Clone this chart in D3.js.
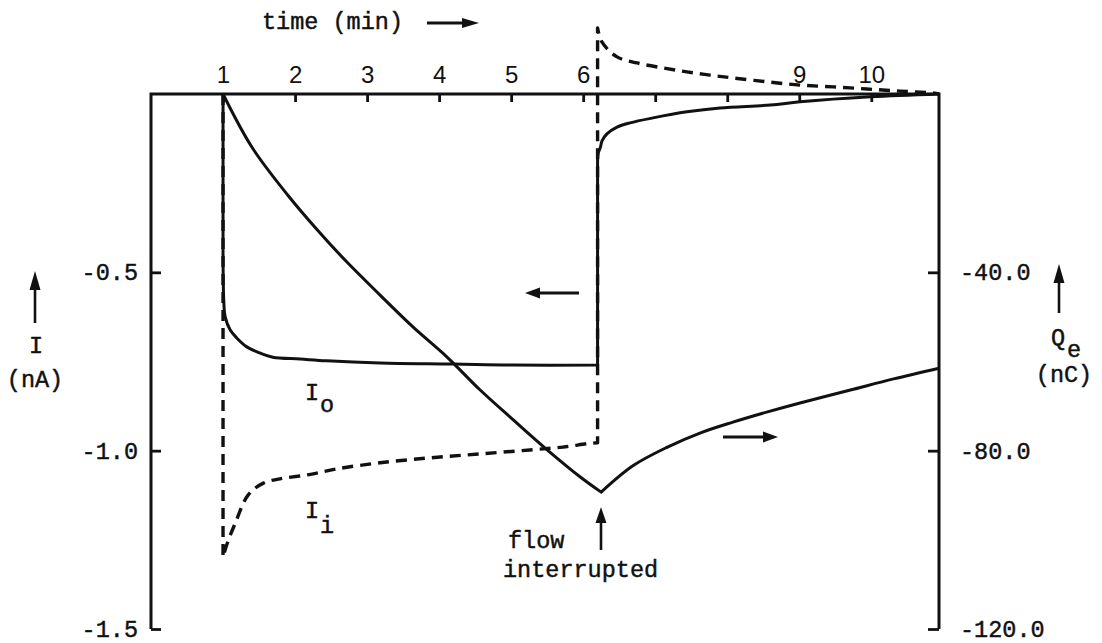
<!DOCTYPE html>
<html>
<head>
<meta charset="utf-8">
<script src="https://cdn.jsdelivr.net/npm/d3@7"></script>
<style>
  html, body { margin: 0; padding: 0; background: #fff; }
  svg { display: block; }
  text { fill: #111; }
</style>
</head>
<body>
<svg id="chart" width="1102" height="643"></svg>
<script>
// Time axis (minutes)
const timeTicks = [1, 2, 3, 4, 5, 6, 7, 8, 9, 10];
const timeTickLabels = ["1", "2", "3", "4", "5", "6", "", "", "9", "10"];
const currentTicks = [-0.5, -1.0, -1.5];   // nA, left axis
const chargeTicks = [-40, -80, -120];      // nC, right axis

// I_o : outlet current (solid), nA
const ioTime = [1.00, 1.00, 1.01, 1.03, 1.10, 1.19, 1.33, 1.51, 1.69, 2.07, 2.44, 3.18, 4.19, 5.03, 6.20,
                6.20, 6.21, 6.24, 6.26, 6.33, 6.47, 6.65, 6.97, 7.44, 7.90, 8.60, 9.01, 9.99, 10.94];
const ioCurrent = [0, -0.437, -0.578, -0.625, -0.662, -0.684, -0.709, -0.726, -0.738, -0.743, -0.748, -0.754, -0.757, -0.760, -0.760,
                   -0.185, -0.165, -0.149, -0.132, -0.112, -0.093, -0.081, -0.067, -0.050, -0.039, -0.031, -0.022, -0.008, 0];

// I_i : inlet current (dashed), nA
const iiTime = [1.00, 1.00, 1.06, 1.17, 1.35, 1.56, 1.79, 2.17, 2.58, 3.18, 3.88, 4.57, 5.26, 5.72, 6.07, 6.20,
                6.20, 6.26, 6.47, 6.75, 7.11, 7.44, 7.76, 8.08, 8.56, 9.01, 9.47, 9.94, 10.40, 10.86, 10.94];
const iiCurrent = [0, -1.298, -1.259, -1.203, -1.124, -1.091, -1.079, -1.068, -1.051, -1.034, -1.020, -1.009, -0.998, -0.990, -0.980, -0.978,
                   0.185, 0.146, 0.104, 0.087, 0.073, 0.062, 0.053, 0.045, 0.034, 0.025, 0.020, 0.014, 0.008, 0.003, 0];

// Q_e : accumulated charge (solid, right axis), nC
const qeTime = [1.00, 1.40, 1.90, 2.31, 2.72, 3.18, 3.64, 4.11, 4.57, 5.03, 5.50, 5.96, 6.25,
                6.69, 7.17, 7.63, 8.08, 8.56, 9.01, 9.71, 10.31, 10.94];
const qeCharge = [0, -11.9, -22.7, -30.5, -37.7, -45.1, -52.3, -59.0, -66.4, -73.1, -79.8, -85.9, -89.3,
                  -83.4, -79.2, -76.0, -73.6, -71.3, -69.3, -66.4, -63.9, -61.5];

const INK = "#111";
const MONO = "'Liberation Mono', 'DejaVu Sans Mono', monospace";
const SANS = "'Liberation Sans', Arial, sans-serif";
const FS = 23.5;

const svg = d3.select("#chart");

const x = d3.scaleLinear().domain([0, 10.94]).range([151, 939]);
const y = d3.scaleLinear().domain([0, -1.5]).range([94, 629]);
const yQ = d3.scaleLinear().domain([0, -120]).range([94, 629]);

// Frame: top, left and right sides
svg.append("path")
  .attr("d", `M${x(0)},${y(-1.5)} V${y(0)} H${x(10.94)} V${y(-1.5)}`)
  .attr("fill", "none").attr("stroke", INK).attr("stroke-width", 3)
  .attr("stroke-linejoin", "miter");

// Top time axis
const xAxis = d3.axisTop(x)
  .tickValues(timeTicks)
  .tickFormat((d, i) => timeTickLabels[i])
  .tickSizeInner(-8).tickSizeOuter(0).tickPadding(11);
const gx = svg.append("g").attr("transform", `translate(0,${y(0)})`).call(xAxis);
gx.select(".domain").remove();
gx.selectAll(".tick line").attr("stroke", INK).attr("stroke-width", 2.8);
gx.selectAll(".tick text").attr("font-family", SANS).attr("font-size", 24).attr("fill", INK);

// Left current axis
const yAxis = d3.axisLeft(y)
  .tickValues(currentTicks)
  .tickFormat(d => d.toFixed(1))
  .tickSizeInner(-10).tickSizeOuter(0).tickPadding(13);
const gy = svg.append("g").attr("transform", `translate(${x(0)},0)`).call(yAxis);
gy.select(".domain").remove();
gy.selectAll(".tick line").attr("stroke", INK).attr("stroke-width", 2.8);
gy.selectAll(".tick text").attr("font-family", MONO).attr("font-size", FS)
  .attr("fill", INK).attr("stroke", INK).attr("stroke-width", 0.45);

// Right charge axis
const qAxis = d3.axisRight(yQ)
  .tickValues(chargeTicks)
  .tickFormat(d => d.toFixed(1))
  .tickSizeInner(-11).tickSizeOuter(0).tickPadding(21);
const gq = svg.append("g").attr("transform", `translate(${x(10.94)},0)`).call(qAxis);
gq.select(".domain").remove();
gq.selectAll(".tick line").attr("stroke", INK).attr("stroke-width", 2.8);
gq.selectAll(".tick text").attr("font-family", MONO).attr("font-size", FS)
  .attr("fill", INK).attr("stroke", INK).attr("stroke-width", 0.45);

// Curves: smooth between corners, straight across vertical jumps
function cornerPath(times, values, yScale, extraCorners) {
  const pts = d3.zip(times, values).map(([t, v]) => [x(t), yScale(v)]);
  const corners = new Set([0, pts.length - 1, ...(extraCorners || [])]);
  for (let i = 0; i < times.length - 1; i++) {
    if (times[i] === times[i + 1]) { corners.add(i); corners.add(i + 1); }
  }
  const idx = Array.from(corners).sort((a, b) => a - b);
  const gen = d3.line().curve(d3.curveCatmullRom.alpha(0.5));
  let d = "";
  for (let k = 0; k < idx.length - 1; k++) {
    const seg = gen(pts.slice(idx[k], idx[k + 1] + 1));
    d += k === 0 ? seg : "L" + seg.slice(1);
  }
  return d;
}

svg.append("path")
  .attr("d", cornerPath(iiTime, iiCurrent, y))
  .attr("fill", "none").attr("stroke", INK).attr("stroke-width", 3.4)
  .attr("stroke-dasharray", "11,7").attr("stroke-linejoin", "round");

svg.append("path")
  .attr("d", cornerPath(ioTime, ioCurrent, y))
  .attr("fill", "none").attr("stroke", INK).attr("stroke-width", 3)
  .attr("stroke-linejoin", "round");

const qMinIndex = d3.minIndex(qeCharge);
svg.append("path")
  .attr("d", cornerPath(qeTime, qeCharge, yQ, [qMinIndex]))
  .attr("fill", "none").attr("stroke", INK).attr("stroke-width", 3)
  .attr("stroke-linejoin", "miter");

// Arrow helper: shaft from (x1,y1) to (x2,y2), filled head at (x2,y2)
function arrow(x1, y1, x2, y2, headLen, headHalf, width) {
  const a = Math.atan2(y2 - y1, x2 - x1);
  const bx = x2 - headLen * Math.cos(a), by = y2 - headLen * Math.sin(a);
  svg.append("line")
    .attr("x1", x1).attr("y1", y1).attr("x2", bx).attr("y2", by)
    .attr("stroke", INK).attr("stroke-width", width);
  const px = -Math.sin(a) * headHalf, py = Math.cos(a) * headHalf;
  svg.append("path")
    .attr("d", `M${x2},${y2} L${bx + px},${by + py} L${bx - px},${by - py} Z`)
    .attr("fill", INK);
}

function label(tx, ty, str, anchor) {
  svg.append("text").attr("x", tx).attr("y", ty)
    .attr("text-anchor", anchor || "start")
    .attr("font-family", MONO).attr("font-size", FS)
    .attr("stroke", INK).attr("stroke-width", 0.45)
    .text(str);
}

// Axis titles
label(262, 29, "time (min)");
arrow(427, 23, 479, 23, 17, 5, 2.8);

arrow(35, 323, 35, 271, 19, 5.5, 2.6);
label(36, 353, "I", "middle");
label(35, 387, "(nA)", "middle");

arrow(1059, 313, 1059, 264, 19, 5.5, 2.6);
label(1058, 345, "Q", "middle");
label(1074, 357, "e", "middle");
label(1064, 382, "(nC)", "middle");

// Direction arrows pointing to each curve's axis
arrow(579, 293, 525, 293, 15, 5.5, 2.8);
arrow(723, 437, 778, 437, 15, 5.5, 2.8);

// Curve labels
label(312, 400, "I", "middle");
label(327, 412, "o", "middle");
label(312, 518, "I", "middle");
label(327, 533, "i", "middle");

// Flow interruption marker
arrow(601, 550, 601, 507, 16, 5.5, 2.6);
label(508, 548, "flow");
label(503, 577, "interrupted");
</script>
</body>
</html>
